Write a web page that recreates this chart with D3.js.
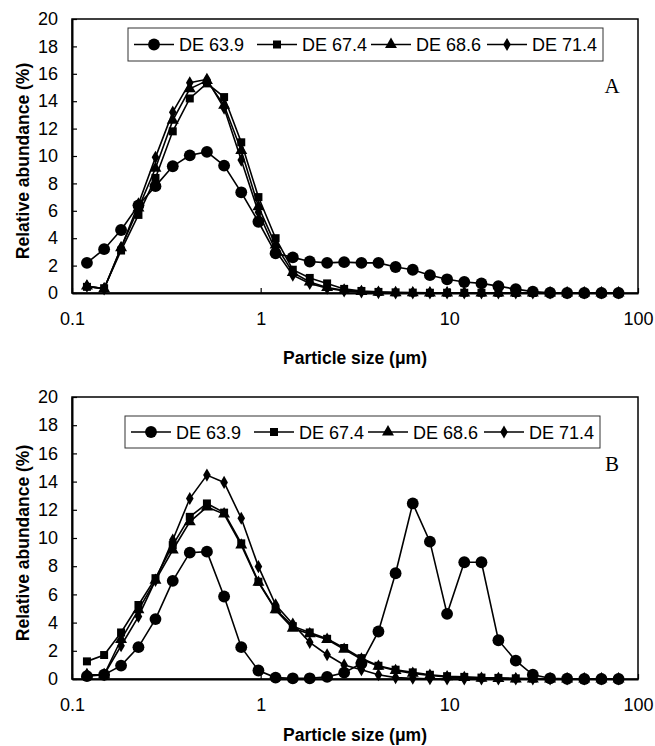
<!DOCTYPE html>
<html>
<head>
<meta charset="utf-8">
<title>Particle size distributions</title>
<script src="https://cdnjs.cloudflare.com/ajax/libs/d3/7.8.5/d3.min.js"></script>
<style>
  body { margin: 0; background: #fff; }
  svg text { font-family: "Liberation Sans", Arial, sans-serif; fill: #000; }
</style>
</head>
<body>
<svg id="chart" width="655" height="746"></svg>
<script>
// particle size classes (um)
var sizes = [0.12, 0.148, 0.182, 0.225, 0.277, 0.342, 0.421, 0.519, 0.640, 0.789, 0.973,
             1.20, 1.48, 1.82, 2.25, 2.77, 3.42, 4.21, 5.19, 6.40, 7.89, 9.73,
             12.0, 14.8, 18.2, 22.5, 27.7, 34.2, 42.1, 51.9, 64.0, 78.9];

var seriesNames = ["DE 63.9", "DE 67.4", "DE 68.6", "DE 71.4"];
var seriesSymbols = ["circle", "square", "triangle", "diamond"];

// panel A
var a639 = [2.2, 3.2, 4.6, 6.4, 7.8, 9.25, 10.05, 10.3, 9.3, 7.35, 5.2, 2.9, 2.6, 2.3, 2.2, 2.25,
            2.2, 2.2, 1.9, 1.7, 1.3, 1.0, 0.8, 0.7, 0.5, 0.28, 0.1, 0.02, 0, 0, 0, 0];
var a674 = [0.45, 0.35, 3.1, 5.7, 8.4, 11.8, 14.2, 15.3, 14.3, 11.0, 7.0, 4.0, 1.7, 1.1, 0.7, 0.3,
            0.15, 0.08, 0.05, 0.03, 0.02, 0.02, 0.02, 0.02, 0.01, 0, 0, 0, 0, 0, 0, 0];
var a686 = [0.5, 0.3, 3.3, 6.2, 9.1, 12.6, 14.9, 15.5, 13.7, 10.4, 6.3, 3.5, 1.5, 0.8, 0.4, 0.2,
            0.1, 0.05, 0.02, 0.01, 0, 0, 0, 0, 0, 0, 0, 0, 0, 0, 0, 0];
var a714 = [0.5, 0.3, 3.3, 6.5, 9.9, 13.2, 15.35, 15.6, 13.5, 9.7, 5.9, 3.1, 1.3, 0.7, 0.35, 0.15,
            0.08, 0.03, 0, 0, 0, 0, 0, 0, 0, 0, 0, 0, 0, 0, 0, 0];

// panel B
var b639 = [0.2, 0.3, 0.95, 2.26, 4.25, 6.96, 8.96, 9.03, 5.85, 2.26, 0.6, 0.1, 0.05, 0.05, 0.15, 0.45,
            1.1, 3.37, 7.5, 12.45, 9.74, 4.62, 8.28, 8.28, 2.75, 1.3, 0.3, 0.05, 0.02, 0, 0, 0];
var b674 = [1.25, 1.7, 3.3, 5.25, 7.15, 9.5, 11.5, 12.45, 11.8, 9.62, 6.9, 4.95, 3.75, 3.3, 2.85, 2.2,
            1.48, 0.94, 0.66, 0.47, 0.3, 0.2, 0.15, 0.1, 0.08, 0.05, 0.03, 0.02, 0, 0, 0, 0];
var b686 = [0.3, 0.3, 2.8, 4.9, 7.0, 9.15, 11.15, 12.2, 11.7, 9.5, 6.85, 4.9, 3.6, 3.2, 2.8, 2.1,
            1.4, 0.9, 0.6, 0.4, 0.25, 0.15, 0.1, 0.05, 0.03, 0, 0, 0, 0, 0, 0, 0];
var b714 = [0.3, 0.3, 2.36, 4.43, 7.0, 9.86, 12.8, 14.46, 13.94, 11.4, 7.97, 5.26, 3.9, 2.6, 1.72, 1.0,
            0.66, 0.3, 0.1, 0.05, 0.02, 0, 0, 0, 0, 0, 0, 0, 0, 0, 0, 0];

var xTicks = [0.1, 1, 10, 100];
var yTicks = [0, 2, 4, 6, 8, 10, 12, 14, 16, 18, 20];

var svg = d3.select("#chart");

var symbolSize = { circle: 110, square: 64, triangle: 62, diamond: 50 };
function symbolPath(name) {
    var type = { circle: d3.symbolCircle, square: d3.symbolSquare,
                 triangle: d3.symbolTriangle, diamond: d3.symbolDiamond }[name];
    return d3.symbol().type(type).size(symbolSize[name])();
}

function drawPanel(p) {
    var x = d3.scaleLog().domain([0.1, 100]).range([p.left, p.right]);
    var y = d3.scaleLinear().domain([0, 20]).range([p.bottom, p.top]);
    var g = svg.append("g");

    // plot frame
    g.append("rect")
        .attr("x", p.left).attr("y", p.top)
        .attr("width", p.right - p.left).attr("height", p.bottom - p.top)
        .attr("fill", "none").attr("stroke", "#000").attr("stroke-width", 1.5);

    var yAxis = g.append("g")
        .attr("transform", "translate(" + p.left + ",0)")
        .call(d3.axisLeft(y).tickValues(yTicks).tickSizeInner(-5).tickSizeOuter(0).tickPadding(14));
    var xAxis = g.append("g")
        .attr("transform", "translate(0," + p.bottom + ")")
        .call(d3.axisBottom(x).tickValues(xTicks).tickFormat(d3.format("~g"))
              .tickSizeInner(-5).tickSizeOuter(0).tickPadding(19));
    [yAxis, xAxis].forEach(function(ax) {
        ax.select(".domain").attr("stroke-width", 2);
        ax.selectAll(".tick line").attr("stroke-width", 1.2);
        ax.selectAll("text").attr("font-size", 18)
            .style("font-family", "'Liberation Sans', Arial, sans-serif");
    });

    // axis titles
    g.append("text")
        .attr("transform", "translate(29," + ((p.top + p.bottom) / 2 + 5) + ") rotate(-90)")
        .attr("text-anchor", "middle")
        .attr("font-size", 17.5).attr("font-weight", "bold")
        .text("Relative abundance (%)");
    g.append("text")
        .attr("x", (p.left + p.right) / 2).attr("y", p.bottom + p.xTitleOffset)
        .attr("text-anchor", "middle")
        .attr("font-size", 17.5).attr("font-weight", "bold")
        .text("Particle size (\u03bcm)");

    // panel letter
    g.append("text")
        .attr("x", p.right - 26).attr("y", p.top + 74)
        .attr("text-anchor", "middle")
        .attr("font-size", 21)
        .style("font-family", "'Liberation Serif', 'Times New Roman', serif")
        .text(p.letter);

    var line = d3.line()
        .x(function(d) { return x(d[0]); })
        .y(function(d) { return y(d[1]); });

    p.series.forEach(function(vals, i) {
        var pts = sizes.map(function(s, j) { return [s, vals[j]]; });
        var sg = g.append("g");
        sg.append("path")
            .attr("d", line(pts))
            .attr("fill", "none").attr("stroke", "#000").attr("stroke-width", 1.6);
        sg.selectAll("path.pt")
            .data(pts)
            .enter().append("path")
            .attr("class", "pt")
            .attr("d", symbolPath(seriesSymbols[i]))
            .attr("transform", function(d) { return "translate(" + x(d[0]) + "," + y(d[1]) + ")"; })
            .attr("fill", "#000");
    });

    // legend
    var lg = g.append("g");
    lg.append("rect")
        .attr("x", p.legend.x).attr("y", p.legend.y)
        .attr("width", p.legend.w).attr("height", p.legend.h)
        .attr("fill", "#fff").attr("stroke", "#333").attr("stroke-width", 1);
    var cy = p.legend.y + p.legend.h / 2;
    seriesNames.forEach(function(name, i) {
        var cx = p.legend.markers[i];
        lg.append("line")
            .attr("x1", cx - 20).attr("x2", cx + 20)
            .attr("y1", cy).attr("y2", cy)
            .attr("stroke", "#000").attr("stroke-width", 1.6);
        lg.append("path")
            .attr("d", symbolPath(seriesSymbols[i]))
            .attr("transform", "translate(" + cx + "," + cy + ")")
            .attr("fill", "#000");
        lg.append("text")
            .attr("x", cx + 25).attr("y", cy + 6.5)
            .attr("font-size", 18)
            .text(name);
    });
}

drawPanel({
    left: 72, right: 638, top: 19, bottom: 293, letter: "A", xTitleOffset: 71,
    series: [a639, a674, a686, a714],
    legend: { x: 128, y: 28, w: 475, h: 33, markers: [154, 277, 391, 507] }
});
drawPanel({
    left: 72, right: 638, top: 397, bottom: 679, letter: "B", xTitleOffset: 62,
    series: [b639, b674, b686, b714],
    legend: { x: 125, y: 416, w: 475, h: 32, markers: [151, 274, 388, 504] }
});
</script>
</body>
</html>
